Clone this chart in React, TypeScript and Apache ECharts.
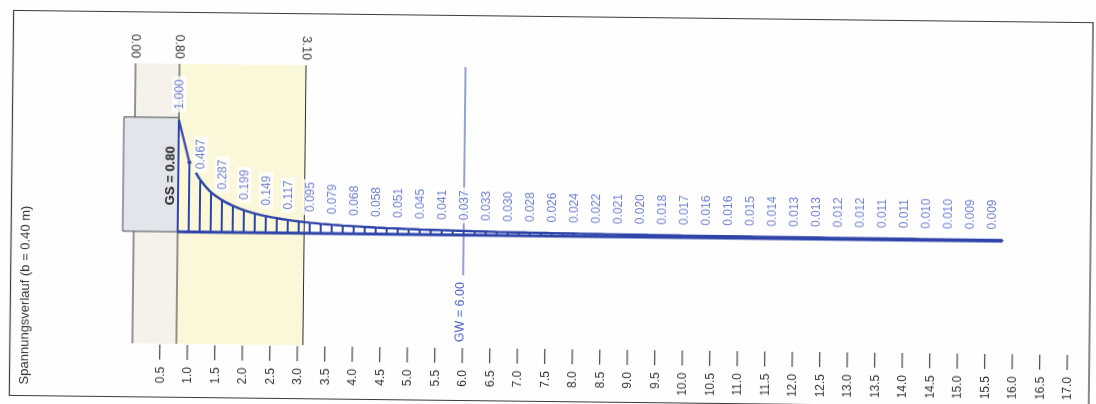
import React, { useEffect, useRef } from 'react';
import * as echarts from 'echarts';

// Soil layer boundaries below ground level (m)
const layerBounds = [0, 0.8, 3.1];
// Footing base (Gründungssohle) and groundwater level (m)
const foundationDepth = 0.8;
const groundwaterDepth = 6.0;
const stripWidth = 0.4;

// Depth axis tick values (m)
const depthTicks = [
  0.5, 1.0, 1.5, 2.0, 2.5, 3.0, 3.5, 4.0, 4.5, 5.0, 5.5, 6.0, 6.5, 7.0, 7.5, 8.0, 8.5,
  9.0, 9.5, 10.0, 10.5, 11.0, 11.5, 12.0, 12.5, 13.0, 13.5, 14.0, 14.5, 15.0, 15.5,
  16.0, 16.5, 17.0,
];

// Stress ratio printed every 0.4 m below the footing base
const labelDepths = [
  0.8, 1.2, 1.6, 2.0, 2.4, 2.8, 3.2, 3.6, 4.0, 4.4, 4.8, 5.2, 5.6, 6.0, 6.4, 6.8, 7.2,
  7.6, 8.0, 8.4, 8.8, 9.2, 9.6, 10.0, 10.4, 10.8, 11.2, 11.6, 12.0, 12.4, 12.8, 13.2,
  13.6, 14.0, 14.4, 14.8, 15.2, 15.6,
];
const labelValues = [
  1.0, 0.467, 0.287, 0.199, 0.149, 0.117, 0.095, 0.079, 0.068, 0.058, 0.051, 0.045,
  0.041, 0.037, 0.033, 0.03, 0.028, 0.026, 0.024, 0.022, 0.021, 0.02, 0.018, 0.017,
  0.016, 0.016, 0.015, 0.014, 0.013, 0.013, 0.012, 0.012, 0.011, 0.011, 0.01, 0.01,
  0.009, 0.009,
];

// Unlabelled hatch stations between the printed ones
const midDepths = [
  1.0, 1.4, 1.8, 2.2, 2.6, 3.0, 3.4, 3.8, 4.2, 4.6, 5.0, 5.4, 5.8, 6.2, 6.6, 7.0, 7.4,
  7.8, 8.2, 8.6, 9.0, 9.4, 9.8, 10.2, 10.6, 11.0, 11.4, 11.8, 12.2, 12.6, 13.0, 13.4,
  13.8, 14.2, 14.6, 15.0, 15.4, 15.8,
];
const midValues = [
  0.62, 0.355, 0.237, 0.171, 0.132, 0.105, 0.086, 0.073, 0.063, 0.054, 0.048, 0.043,
  0.039, 0.035, 0.031, 0.029, 0.027, 0.025, 0.023, 0.0215, 0.0205, 0.019, 0.0175,
  0.0165, 0.016, 0.0155, 0.0145, 0.0135, 0.013, 0.0125, 0.012, 0.0115, 0.011, 0.0105,
  0.01, 0.0095, 0.009, 0.0085,
];

// Start of the continuous stress curve after the first steep segment
const curveStart: [number, number] = [1.12, 0.53];

const BLUE = '#2f44a8';
const LABEL_BLUE = '#4a5ec4';
const INK = '#2e2e2e';
const FONT = '"Liberation Sans", Arial, Helvetica, sans-serif';

const X_MIN = -0.4;
const X_MAX = 17.2;
const Y_MIN = -1;
const Y_MAX = 1.5;
const TICK_LEN = 15;

function buildOption(): any {
  const labelPoints = labelDepths.map((d, i) => [d, labelValues[i]]);
  const midPoints = midDepths.map((d, i) => [d, midValues[i]]);
  const profile = [...labelPoints, ...midPoints].sort((a, b) => a[0] - b[0]);

  const firstSegment = profile.slice(0, 2);
  const curve = [curveStart, ...profile.filter((p) => p[0] >= 1.2)];
  const baseline = [
    [profile[0][0], 0],
    [profile[profile.length - 1][0], 0],
  ];

  // only the two upper layers are shaded
  const bandEdges = [
    [layerBounds[0], layerBounds[1]],
    [layerBounds[1], layerBounds[2]],
  ];
  const bandFills = ['#f4f2ea', '#fbf8da'];

  return {
    animation: false,
    backgroundColor: '#fefefe',
    textStyle: { fontFamily: FONT },
    graphic: [
      {
        type: 'rect',
        shape: { x: 11.5, y: 16.5, width: 1079.5, height: 385 },
        style: { fill: 'none', stroke: '#3a3a3a', lineWidth: 1.2 },
        silent: true,
        z: 20,
      },
      {
        type: 'text',
        x: 25,
        y: 301,
        rotation: Math.PI / 2,
        style: {
          text: `Spannungsverlauf (b = ${stripWidth.toFixed(2)} m)`,
          fill: '#333',
          fontSize: 13,
          fontFamily: FONT,
          align: 'center',
          verticalAlign: 'middle',
        },
        silent: true,
        z: 20,
      },
    ],
    grid: { left: 112, top: 68, width: 968, height: 280, containLabel: false },
    xAxis: [
      {
        type: 'value',
        position: 'bottom',
        min: X_MIN,
        max: X_MAX,
        splitLine: { show: false },
        axisLine: { show: false },
        axisTick: { show: false },
        axisLabel: {
          show: true,
          customValues: depthTicks,
          rotate: 90,
          margin: 23,
          fontSize: 12,
          fontFamily: FONT,
          color: '#333',
          formatter: (v: number) => v.toFixed(1),
        },
      },
      {
        type: 'value',
        position: 'top',
        min: X_MIN,
        max: X_MAX,
        splitLine: { show: false },
        axisLine: { show: false },
        axisTick: { show: false },
        axisLabel: {
          show: true,
          customValues: layerBounds,
          rotate: 90,
          margin: 5,
          fontSize: 12.5,
          fontFamily: FONT,
          color: '#333',
          formatter: (v: number) => v.toFixed(2),
        },
      },
    ],
    yAxis: { type: 'value', min: Y_MIN, max: Y_MAX, show: false },
    series: [
      // soil layer bands
      {
        type: 'custom',
        silent: true,
        z: 1,
        data: bandEdges,
        renderItem: (params: any, api: any) => {
          const tl = api.coord([api.value(0), Y_MAX]);
          const br = api.coord([api.value(1), Y_MIN]);
          return {
            type: 'rect',
            shape: { x: tl[0], y: tl[1], width: br[0] - tl[0], height: br[1] - tl[1] },
            style: { fill: bandFills[params.dataIndex] },
          };
        },
      },
      // layer boundary lines
      {
        type: 'custom',
        silent: true,
        z: 2,
        data: layerBounds.map((d) => [d, 0]),
        renderItem: (_p: any, api: any) => {
          const a = api.coord([api.value(0), Y_MAX]);
          const b = api.coord([api.value(0), Y_MIN]);
          return {
            type: 'line',
            shape: { x1: a[0], y1: a[1], x2: b[0], y2: b[1] },
            style: { stroke: INK, lineWidth: 1 },
          };
        },
      },
      // depth ticks below the plot
      {
        type: 'custom',
        silent: true,
        z: 2,
        clip: false,
        data: depthTicks.map((d) => [d, Y_MIN]),
        renderItem: (_p: any, api: any) => {
          const a = api.coord([api.value(0), Y_MIN]);
          return {
            type: 'line',
            shape: { x1: a[0], y1: a[1] + 1, x2: a[0], y2: a[1] + 1 + TICK_LEN },
            style: { stroke: '#333', lineWidth: 1.1 },
          };
        },
      },
      // footing block
      {
        type: 'custom',
        silent: true,
        z: 3,
        data: [[-0.2, foundationDepth]],
        renderItem: (_p: any, api: any) => {
          const tl = api.coord([api.value(0), 1.02]);
          const br = api.coord([api.value(1), 0]);
          const t = api.coord([0.65, 0.5]);
          return {
            type: 'group',
            children: [
              {
                type: 'rect',
                shape: { x: tl[0], y: tl[1], width: br[0] - tl[0], height: br[1] - tl[1] },
                style: { fill: '#e3e5ec', stroke: '#4a4a4a', lineWidth: 1 },
              },
              {
                type: 'text',
                x: t[0],
                y: t[1],
                rotation: Math.PI / 2,
                style: {
                  text: `GS = ${foundationDepth.toFixed(2)}`,
                  fill: '#222',
                  fontSize: 13,
                  fontWeight: 'bold',
                  fontFamily: FONT,
                  align: 'center',
                  verticalAlign: 'middle',
                },
              },
            ],
          };
        },
      },
      // groundwater level
      {
        type: 'custom',
        silent: true,
        z: 4,
        data: [[groundwaterDepth, 0]],
        renderItem: (_p: any, api: any) => {
          const a = api.coord([api.value(0), Y_MAX]);
          const b = api.coord([api.value(0), -0.36]);
          const t = api.coord([api.value(0), -0.42]);
          return {
            type: 'group',
            children: [
              {
                type: 'line',
                shape: { x1: a[0], y1: a[1], x2: b[0], y2: b[1] },
                style: { stroke: BLUE, lineWidth: 1 },
              },
              {
                type: 'text',
                x: t[0] - 3,
                y: t[1],
                rotation: Math.PI / 2,
                style: {
                  text: `GW = ${groundwaterDepth.toFixed(2)}`,
                  fill: LABEL_BLUE,
                  fontSize: 12.5,
                  fontFamily: FONT,
                  align: 'right',
                  verticalAlign: 'middle',
                },
              },
            ],
          };
        },
      },
      // hatch lines under the stress curve
      {
        type: 'custom',
        silent: true,
        z: 5,
        data: profile,
        renderItem: (_p: any, api: any) => {
          const a = api.coord([api.value(0), 0]);
          const b = api.coord([api.value(0), api.value(1)]);
          return {
            type: 'line',
            shape: { x1: a[0], y1: a[1], x2: b[0], y2: b[1] },
            style: { stroke: BLUE, lineWidth: 2 },
          };
        },
      },
      // first steep segment below the footing
      {
        type: 'line',
        z: 6,
        silent: true,
        data: firstSegment,
        symbol: 'circle',
        symbolSize: (_v: any, p: any) => (p.dataIndex === 1 ? 4 : 0),
        itemStyle: { color: BLUE },
        lineStyle: { color: BLUE, width: 2.2 },
      },
      // stress curve
      {
        type: 'line',
        z: 6,
        silent: true,
        data: curve,
        showSymbol: false,
        smooth: 0.3,
        lineStyle: { color: BLUE, width: 2.4 },
      },
      // zero line of the stress diagram
      {
        type: 'line',
        z: 6,
        silent: true,
        data: baseline,
        showSymbol: false,
        lineStyle: { color: BLUE, width: 3 },
      },
      // printed values
      {
        type: 'scatter',
        z: 8,
        silent: true,
        data: labelPoints,
        symbolSize: 1,
        itemStyle: { color: 'rgba(0,0,0,0)' },
        label: {
          show: true,
          position: 'top',
          distance: 7,
          rotate: 90,
          align: 'left',
          verticalAlign: 'middle',
          color: LABEL_BLUE,
          fontSize: 12,
          fontFamily: FONT,
          backgroundColor: '#ffffff',
          padding: [1, 3],
          formatter: (p: any) => p.value[1].toFixed(3),
        },
      },
    ],
  };
}

export default function App() {
  const ref = useRef<HTMLDivElement>(null);

  useEffect(() => {
    if (!ref.current) return;
    const chart = echarts.init(ref.current, null, { renderer: 'svg' });
    chart.setOption(buildOption());
    return () => chart.dispose();
  }, []);

  return (
    <div
      ref={ref}
      style={{
        position: 'fixed',
        left: 0,
        top: 0,
        width: 1096,
        height: 404,
        transform: 'rotate(0.65deg)',
        transformOrigin: '548px 202px',
        background: '#fefefe',
      }}
    />
  );
}
